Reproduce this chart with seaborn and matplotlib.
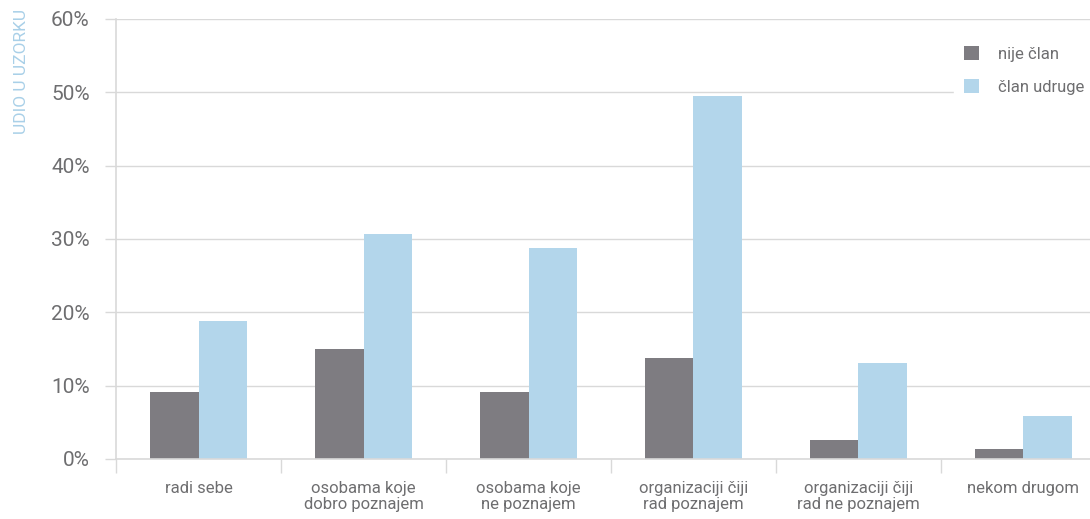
import matplotlib
matplotlib.use("Agg")
import matplotlib.pyplot as plt
import matplotlib.font_manager as fm
from matplotlib.ticker import FixedLocator, PercentFormatter
from matplotlib.patches import Patch
import seaborn as sns
import pandas as pd

categories = [
    "radi sebe",
    "osobama koje\ndobro poznajem",
    "osobama koje\nne poznajem",
    "organizaciji čiji\nrad poznajem",
    "organizaciji čiji\nrad ne poznajem",
    "nekom drugom",
]
series_names = ["nije član", "član udruge"]
nije_clan = [9.1, 15.0, 9.1, 13.8, 2.6, 1.4]
clan_udruge = [18.8, 30.7, 28.8, 49.5, 13.1, 5.9]
y_ticks = [0, 10, 20, 30, 40, 50, 60]
y_title = "UDIO U UZORKU"

GREY = "#7e7c81"
BLUE = "#b3d6eb"
TEXT = "#6e6e70"
GRID = "#d9d9d9"

sns.set_theme(style="white")
installed = {f.name for f in fm.fontManager.ttflist}
fam = [f for f in ["Liberation Sans Narrow", "Roboto", "DejaVu Sans"] if f in installed]
plt.rcParams["font.family"] = fam

df = pd.DataFrame({
    "kategorija": categories * 2,
    "skupina": [series_names[0]] * len(categories) + [series_names[1]] * len(categories),
    "udio": nije_clan + clan_udruge,
})

fig = plt.figure(figsize=(10.9, 5.19), dpi=100)
ax = fig.add_axes([116 / 1090, 1 - 459 / 519, 1 - 116 / 1090, (459 - 19) / 519])

sns.barplot(data=df, x="kategorija", y="udio", hue="skupina",
            palette=[GREY, BLUE], width=0.59, saturation=1,
            order=categories, hue_order=series_names, ax=ax, legend=False)
for p in ax.patches:
    p.set_edgecolor("none")

ax.yaxis.set_major_locator(FixedLocator(y_ticks))
ax.yaxis.set_major_formatter(PercentFormatter(decimals=0))
ax.grid(axis="y", color=GRID, linewidth=1)
ax.set_axisbelow(True)

for s in ["top", "right"]:
    ax.spines[s].set_visible(False)
for s in ["left", "bottom"]:
    ax.spines[s].set_color(GRID)
    ax.spines[s].set_linewidth(1.2)

ax.set_xlabel("")
ax.set_ylabel("")
ax.tick_params(axis="y", left=True, length=8, width=1, color=GRID,
               labelsize=15, labelcolor=TEXT, pad=11)
ax.tick_params(axis="x", which="major", length=0, labelsize=12,
               labelcolor=TEXT, pad=16)
ax.set_xticks([i - 0.5 for i in range(len(categories) + 1)], minor=True)
ax.tick_params(axis="x", which="minor", bottom=True, length=10, width=1, color=GRID)
for lbl in ax.get_xticklabels():
    lbl.set_linespacing(1.05)

# the last category runs past the right edge of the figure
ax.set_ylim(0, 60)
ax.set_xlim(-0.5, -0.5 + (1090 - 116) / 165)

fig.text(22 / 1090, 1 - 9 / 519, y_title, rotation=90, ha="center", va="top",
         color="#a9d0e8", fontsize=12.5)

handles = [Patch(facecolor=GREY, edgecolor="none"), Patch(facecolor=BLUE, edgecolor="none")]
leg = ax.legend(handles, series_names, loc="upper left",
                bbox_to_anchor=(946 / 1090, 1 - 28 / 519), bbox_transform=fig.transFigure,
                frameon=True, facecolor="white", edgecolor="white", framealpha=1,
                fontsize=12, handlelength=0.9, handleheight=0.9, handletextpad=1.1,
                labelspacing=1.05, borderpad=0.6, fancybox=False)
for t in leg.get_texts():
    t.set_color(TEXT)

fig.savefig("out.png", dpi=100, facecolor="white")
